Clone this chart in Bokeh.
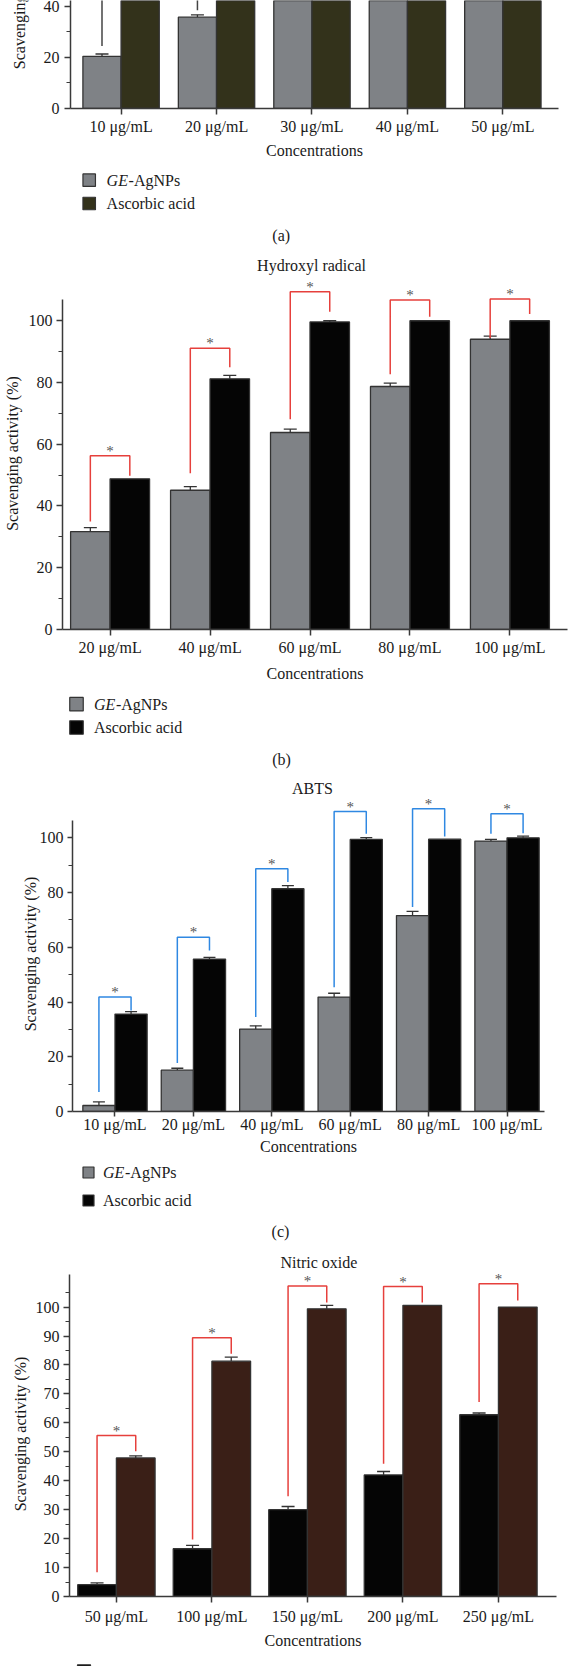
import math
import numpy as np
from bokeh.plotting import figure
from bokeh.models import Range1d, FixedTicker, ColumnDataSource, Whisker, TeeHead
from bokeh.layouts import column, row
from bokeh.embed import file_html
from bokeh.resources import INLINE
from bokeh.core.properties import value

FONT = "Liberation Serif"
YLABEL = "Scavenging activity (%)"
XLABEL = "Concentrations"
S1_NAME_IT = "GE"
S1_NAME_REST = "-AgNPs"
S2_NAME = "Ascorbic acid"

# ---------------- data ----------------
cats_a = ["10 \u03bcg/mL", "20 \u03bcg/mL", "30 \u03bcg/mL", "40 \u03bcg/mL", "50 \u03bcg/mL"]
gen_a = [20.4, 35.7, 55.0, 68.0, 82.0]
gen_a_err = [0.9, 0.9, 1.0, 1.0, 1.0]
asc_a = [88.0, 91.0, 94.0, 96.0, 97.0]
asc_a_err = [0.0, 0.0, 0.0, 0.0, 0.0]
brk_a_lb = [24.4, 38.4, 58.0, 71.0, 85.0]
brk_a_top = [95.0, 98.0, 101.0, 104.0, 106.0]
brk_a_rb = [90.0, 93.0, 96.0, 98.0, 99.0]

title_b = "Hydroxyl radical"
cats_b = ["20 \u03bcg/mL", "40 \u03bcg/mL", "60 \u03bcg/mL", "80 \u03bcg/mL", "100 \u03bcg/mL"]
gen_b = [31.7, 45.1, 63.8, 78.7, 94.0]
gen_b_err = [1.3, 1.2, 1.1, 1.1, 1.0]
asc_b = [48.8, 81.2, 99.6, 100.0, 100.0]
asc_b_err = [0.0, 1.1, 0.4, 0.0, 0.0]
brk_b_lb = [35.0, 50.6, 68.1, 82.7, 94.4]
brk_b_top = [56.3, 91.1, 109.4, 106.7, 107.0]
brk_b_rb = [49.8, 84.9, 102.9, 101.3, 102.2]

title_c = "ABTS"
cats_c = ["10 \u03bcg/mL", "20 \u03bcg/mL", "40 \u03bcg/mL", "60 \u03bcg/mL", "80 \u03bcg/mL", "100 \u03bcg/mL"]
gen_c = [2.2, 15.1, 30.1, 41.8, 71.6, 98.8]
gen_c_err = [1.3, 0.7, 1.2, 1.4, 1.5, 0.6]
asc_c = [35.6, 55.7, 81.4, 99.4, 99.5, 100.0]
asc_c_err = [0.9, 0.6, 1.1, 0.7, 0.0, 0.6]
brk_c_lb = [7.1, 17.7, 34.5, 45.4, 74.7, 101.5]
brk_c_top = [41.8, 63.7, 88.7, 109.6, 110.6, 108.8]
brk_c_rb = [36.9, 58.8, 83.9, 101.5, 100.5, 101.7]

title_d = "Nitric oxide"
cats_d = ["50 \u03bcg/mL", "100 \u03bcg/mL", "150 \u03bcg/mL", "200 \u03bcg/mL", "250 \u03bcg/mL"]
gen_d = [4.1, 16.5, 30.0, 42.0, 62.8]
gen_d_err = [0.6, 1.2, 1.1, 1.2, 0.6]
asc_d = [47.9, 81.3, 99.4, 100.6, 100.0]
asc_d_err = [0.7, 1.4, 1.2, 0.0, 0.0]
brk_d_lb = [8.4, 19.7, 34.6, 45.9, 67.2]
brk_d_top = [55.6, 89.4, 107.3, 107.1, 108.1]
brk_d_rb = [50.2, 83.9, 101.6, 101.6, 102.3]

# ---------------- style ----------------
GRAY = "#7f8286"
OLIVE = "#33321b"
BLACK = "#050505"
BROWN = "#3a1f17"
RED = "#e6403c"
BLUE = "#2f88e2"
DARKLINE = "#3a3a3a"
EDGE = "#333333"
TXT = "#1a1a1a"


def no_align(p):
    try:
        if "frame_align" in p.properties():
            p.frame_align = False
    except Exception:
        pass
    return p


def style_axes(p, fs="16px"):
    for ax in p.axis:
        ax.axis_line_color = DARKLINE
        ax.axis_line_width = 1.5
        ax.major_tick_line_color = DARKLINE
        ax.major_tick_line_width = 1.5
        ax.minor_tick_line_color = DARKLINE
        ax.minor_tick_line_width = 1.2
        ax.major_tick_in = 0
        ax.minor_tick_in = 0
        ax.major_label_text_font = FONT
        ax.major_label_text_font_size = fs
        ax.major_label_text_color = TXT
        ax.axis_label_text_font = FONT
        ax.axis_label_text_font_size = fs
        ax.axis_label_text_font_style = "normal"
        ax.axis_label_text_color = TXT


def add_err(p, xs, tops, errs, cap):
    keep = [(x, t, e) for x, t, e in zip(xs, tops, errs) if e > 0]
    if not keep:
        return
    src = ColumnDataSource(dict(base=[k[0] for k in keep],
                                lower=[k[1] for k in keep],
                                upper=[k[1] + k[2] for k in keep]))
    w = Whisker(source=src, base="base", lower="lower", upper="upper",
                line_color=EDGE, line_width=1.3,
                upper_head=TeeHead(size=cap, line_color=EDGE, line_width=1.3),
                lower_head=None)
    p.add_layout(w)


def make_panel(cats, s1, e1, s2, e2, blb, btop, brb, *, w, h, mbl, mbr, mbb,
               xr, yr, ybounds, yticks, yminor, c1, c2, bcolor, barw,
               ylab, xt_out, xt_standoff, xl_standoff, yt_out, yt_standoff,
               yl_standoff, cap=13, stars=True):
    p = figure(width=w, height=h, output_backend="svg", toolbar_location=None,
               x_range=Range1d(*xr), y_range=Range1d(*yr), title=None,
               min_border_left=mbl, min_border_right=mbr,
               min_border_top=0, min_border_bottom=mbb)
    no_align(p)
    p.outline_line_color = None
    p.grid.visible = False
    n = len(cats)
    x = np.arange(n)
    x1 = x - barw / 2
    x2 = x + barw / 2
    src = ColumnDataSource(dict(x1=x1, x2=x2, s1=s1, s2=s2))
    p.vbar(x="x1", top="s1", bottom=0, width=barw, source=src,
           fill_color=c1, line_color=EDGE, line_width=1.3)
    p.vbar(x="x2", top="s2", bottom=0, width=barw, source=src,
           fill_color=c2, line_color=EDGE, line_width=1.3)
    add_err(p, list(x1), s1, e1, cap)
    add_err(p, list(x2), s2, e2, cap)
    xs = [[a, a, b, b] for a, b in zip(x1, x2)]
    ys = [[l, t, t, r] for l, t, r in zip(blb, btop, brb)]
    p.multi_line(xs, ys, line_color=bcolor, line_width=1.5)
    if stars:
        p.text(x=list(x), y=list(btop), text=["*"] * n, text_align="center",
               text_baseline="middle", y_offset=-5, text_font=value(FONT),
               text_font_size="15px", text_color="#555555")

    p.xaxis.ticker = FixedTicker(ticks=list(range(n)))
    p.xaxis.major_label_overrides = {i: c for i, c in enumerate(cats)}
    p.xaxis.axis_label = XLABEL
    p.yaxis.ticker = FixedTicker(ticks=yticks, minor_ticks=yminor)
    p.yaxis.bounds = ybounds
    p.yaxis.axis_label = ylab
    style_axes(p)
    p.xaxis.minor_tick_line_color = None
    p.xaxis.major_tick_out = xt_out
    p.xaxis.major_label_standoff = xt_standoff
    p.xaxis.axis_label_standoff = xl_standoff
    p.yaxis.major_tick_out = yt_out
    p.yaxis.minor_tick_out = 4
    p.yaxis.major_label_standoff = yt_standoff
    p.yaxis.axis_label_standoff = yl_standoff
    return p


def gap_fig(h, w=568):
    p = figure(width=w, height=h, output_backend="svg", toolbar_location=None,
               x_range=Range1d(0, w), y_range=Range1d(h, 0), title=None,
               x_axis_type=None, y_axis_type=None, min_border=0)
    no_align(p)
    p.outline_line_color = None
    return p


def add_legend(p, xc, y1, y2, size, tx, c1, c2):
    p.scatter(x=[xc, xc], y=[y1, y2], marker="square", size=size,
              fill_color=[c1, c2], line_color=EDGE, line_width=1.2)
    p.text(x=[tx], y=[y1], text=[S1_NAME_IT], text_font=value(FONT),
           text_font_style="italic", text_font_size="16px", text_color=TXT,
           text_baseline="middle", text_align="left")
    p.text(x=[tx + 22], y=[y1], text=[S1_NAME_REST], text_font=value(FONT),
           text_font_size="16px", text_color=TXT,
           text_baseline="middle", text_align="left")
    p.text(x=[tx], y=[y2], text=[S2_NAME], text_font=value(FONT),
           text_font_size="16px", text_color=TXT,
           text_baseline="middle", text_align="left")


def add_center_text(p, x, y, s):
    p.text(x=[x], y=[y], text=[s], text_font=value(FONT), text_font_size="16px",
           text_color=TXT, text_baseline="middle", text_align="center")


# ---------------- panel (a) ----------------
H_A = 162
lab_a = figure(width=30, height=H_A, output_backend="svg", toolbar_location=None,
               x_range=Range1d(0, 30), y_range=Range1d(0, H_A), title=None,
               x_axis_type=None, y_axis_type=None, min_border=0)
no_align(lab_a)
lab_a.outline_line_color = None
lab_a.text(x=[18.7], y=[H_A - 68.7], text=[YLABEL], angle=math.pi / 2,
           text_font=value(FONT), text_font_size="16px", text_color=TXT,
           text_align="left", text_baseline="middle")

fig_a = make_panel(cats_a, gen_a, gen_a_err, asc_a, asc_a_err,
                   brk_a_lb, brk_a_top, brk_a_rb,
                   w=538, h=H_A, mbl=40, mbr=10, mbb=54,
                   xr=(-0.530, 4.583), yr=(0, 42.2), ybounds=(0, 42.2),
                   yticks=[0, 20, 40], yminor=[10, 30],
                   c1=GRAY, c2=OLIVE, bcolor="#444444", barw=0.40, ylab=None,
                   xt_out=6, xt_standoff=3, xl_standoff=4,
                   yt_out=6, yt_standoff=5, yl_standoff=0, stars=False)
row_a = row(lab_a, fig_a)

GA0 = 162
gap_a = gap_fig(277 - GA0)
add_legend(gap_a, 88.7, 179.7 - GA0, 203 - GA0, 12.5, 106.1, GRAY, OLIVE)
add_center_text(gap_a, 280.7, 235 - GA0, "(a)")
add_center_text(gap_a, 311, 265 - GA0, title_b)

# ---------------- panel (b) ----------------
fig_b = make_panel(cats_b, gen_b, gen_b_err, asc_b, asc_b_err,
                   brk_b_lb, brk_b_top, brk_b_rb,
                   w=568, h=408, mbl=61, mbr=1, mbb=56,
                   xr=(-0.476, 4.576), yr=(0, 114.0), ybounds=(0, 107),
                   yticks=[0, 20, 40, 60, 80, 100], yminor=[10, 30, 50, 70, 90],
                   c1=GRAY, c2=BLACK, bcolor=RED, barw=0.395, ylab=YLABEL,
                   xt_out=6, xt_standoff=3, xl_standoff=6,
                   yt_out=6, yt_standoff=4, yl_standoff=5)

gap_b = gap_fig(111)
add_legend(gap_b, 76, 18.7, 42, 13.5, 93.4, GRAY, BLACK)
add_center_text(gap_b, 281, 74, "(b)")
add_center_text(gap_b, 312, 102.7, title_c)

# ---------------- panel (c) ----------------
fig_c = make_panel(cats_c, gen_c, gen_c_err, asc_c, asc_c_err,
                   brk_c_lb, brk_c_top, brk_c_rb,
                   w=568, h=364, mbl=72, mbr=24, mbb=49,
                   xr=(-0.542, 5.478), yr=(0, 115.1), ybounds=(0, 106.3),
                   yticks=[0, 20, 40, 60, 80, 100], yminor=[10, 30, 50, 70, 90],
                   c1=GRAY, c2=BLACK, bcolor=BLUE, barw=0.41, ylab=YLABEL,
                   xt_out=5, xt_standoff=-1, xl_standoff=2,
                   yt_out=5, yt_standoff=4, yl_standoff=-2, cap=12)

gap_c = gap_fig(111)
add_legend(gap_c, 88, 12, 40, 11, 102.5, GRAY, BLACK)
add_center_text(gap_c, 280, 71, "(c)")
add_center_text(gap_c, 318.4, 102, title_d)

# ---------------- panel (d) ----------------
fig_d = make_panel(cats_d, gen_d, gen_d_err, asc_d, asc_d_err,
                   brk_d_lb, brk_d_top, brk_d_rb,
                   w=568, h=384, mbl=69, mbr=12, mbb=59,
                   xr=(-0.491, 4.608), yr=(0, 112.3), ybounds=(0, 111.3),
                   yticks=list(range(0, 101, 10)), yminor=list(range(5, 110, 10)),
                   c1=BLACK, c2=BROWN, bcolor=RED, barw=0.405, ylab=YLABEL,
                   xt_out=6, xt_standoff=5, xl_standoff=4,
                   yt_out=6, yt_standoff=4, yl_standoff=4)

gap_d = gap_fig(11)
gap_d.scatter(x=[83.5], y=[14.8], marker="square", size=13,
              fill_color=BLACK, line_color=EDGE, line_width=1.2)

layout = column(row_a, gap_a, fig_b, gap_b, fig_c, gap_c, fig_d, gap_d)
open("out.html", "w").write(file_html(layout, INLINE))
